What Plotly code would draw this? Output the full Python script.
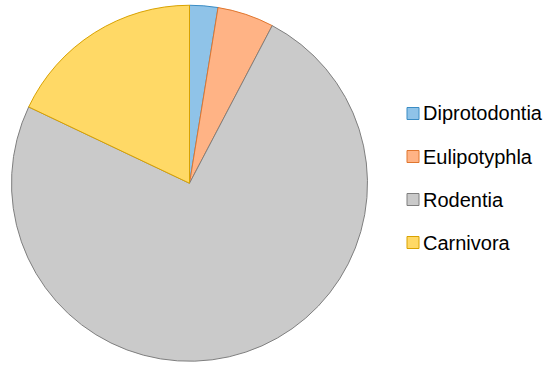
import plotly.graph_objects as go

orders = ["Diprotodontia", "Eulipotyphla", "Rodentia", "Carnivora"]
counts = [1, 2, 29, 7]
fills = ["#8fc3e8", "#ffb385", "#cacaca", "#ffd966"]
edges = ["#3a8cc4", "#e0762e", "#7f7f7f", "#d9a200"]

W, H = 550, 371

fig = go.Figure(go.Pie(
    labels=orders,
    values=counts,
    sort=False,
    direction="clockwise",
    rotation=0,
    textinfo="none",
    hoverinfo="label+value+percent",
    marker=dict(colors=fills, line=dict(color=edges, width=1)),
    domain=dict(x=[11.5 / W, 367.5 / W], y=[1 - 361.5 / H, 1 - 5 / H]),
    showlegend=False,
))

# hand-drawn legend, rows spaced like the reference
row_y = [113.5, 156.5, 199.5, 242.5]
for name, fc, ec, yy in zip(orders, fills, edges, row_y):
    fig.add_shape(type="rect", xref="paper", yref="paper",
                  x0=407 / W, x1=419 / W,
                  y0=1 - (yy + 6) / H, y1=1 - (yy - 6) / H,
                  fillcolor=fc, line=dict(color=ec, width=1))
    fig.add_annotation(x=421 / W, y=1 - yy / H, xref="paper", yref="paper",
                       text=name, showarrow=False, xanchor="left", yanchor="middle",
                       font=dict(size=20))

fig.update_layout(
    width=W, height=H,
    margin=dict(l=0, r=0, t=0, b=0),
    paper_bgcolor="white",
    font=dict(family="Liberation Sans, Arial, sans-serif", size=20, color="black"),
)

# drop the page's default 8px body margin so the figure sits at 0,0
fig.write_html("out.html", config={"displayModeBar": False},
               post_script="document.body.style.margin='0';")
